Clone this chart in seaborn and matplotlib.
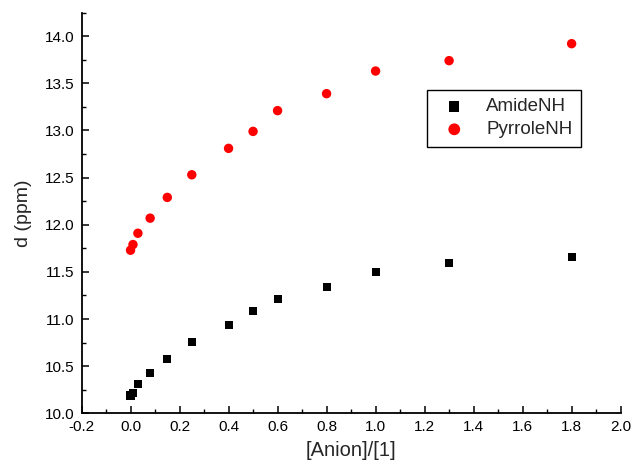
import matplotlib
matplotlib.use("Agg")
import matplotlib.pyplot as plt
import seaborn as sns
import pandas as pd
from matplotlib.ticker import MultipleLocator

ratio = [0.0, 0.01, 0.03, 0.08, 0.15, 0.25, 0.4, 0.5, 0.6, 0.8, 1.0, 1.3, 1.8]
amide_nh = [10.19, 10.22, 10.31, 10.43, 10.58, 10.76, 10.94, 11.09, 11.21, 11.34, 11.50, 11.59, 11.66]
pyrrole_nh = [11.73, 11.79, 11.91, 12.07, 12.29, 12.53, 12.81, 12.99, 13.21, 13.39, 13.63, 13.74, 13.92]

df_a = pd.DataFrame({"x": ratio, "y": amide_nh})
df_p = pd.DataFrame({"x": ratio, "y": pyrrole_nh})

sns.set_style("ticks")
plt.rcParams["font.family"] = ["Liberation Sans", "DejaVu Sans"]

fig = plt.figure(figsize=(6.32, 4.65), dpi=100)
ax = fig.add_axes([0.129, 0.111, 0.853, 0.862])

sns.scatterplot(data=df_a, x="x", y="y", ax=ax, marker="s", s=34, color="black",
                edgecolor="none", label="AmideNH")
sns.scatterplot(data=df_p, x="x", y="y", ax=ax, marker="o", s=46, color="#ff0000",
                edgecolor="none", label="PyrroleNH")

ax.set_xlim(-0.2, 2.0)
ax.set_ylim(10.0, 14.25)
ax.xaxis.set_major_locator(MultipleLocator(0.2))
ax.xaxis.set_minor_locator(MultipleLocator(0.1))
ax.yaxis.set_major_locator(MultipleLocator(0.5))
ax.yaxis.set_minor_locator(MultipleLocator(0.25))
ax.set_xticklabels([f"{v:.1f}" for v in ax.get_xticks()])
ax.set_yticklabels([f"{v:.1f}" for v in ax.get_yticks()])

for side in ["top", "right"]:
    ax.spines[side].set_visible(False)
for side in ["left", "bottom"]:
    ax.spines[side].set_linewidth(1.3)
    ax.spines[side].set_color("black")

ax.tick_params(which="major", direction="in", length=5, width=1.1, labelsize=11,
               colors="black", pad=5)
ax.tick_params(which="minor", direction="in", length=3, width=1.0, colors="black")

ax.set_xlabel("[Anion]/[1]", fontsize=14.5, labelpad=5)
ax.set_ylabel("d (ppm)", fontsize=14, labelpad=9)

leg = ax.legend(loc="upper left", bbox_to_anchor=(0.641, 0.807), borderaxespad=0,
                fontsize=13.5, frameon=True, fancybox=False, edgecolor="black",
                framealpha=1, handletextpad=0.7, borderpad=0.45, labelspacing=0.3,
                markerscale=1.25, handlelength=2.0)
leg.get_frame().set_linewidth(1.0)

fig.savefig("out.png", dpi=100)
